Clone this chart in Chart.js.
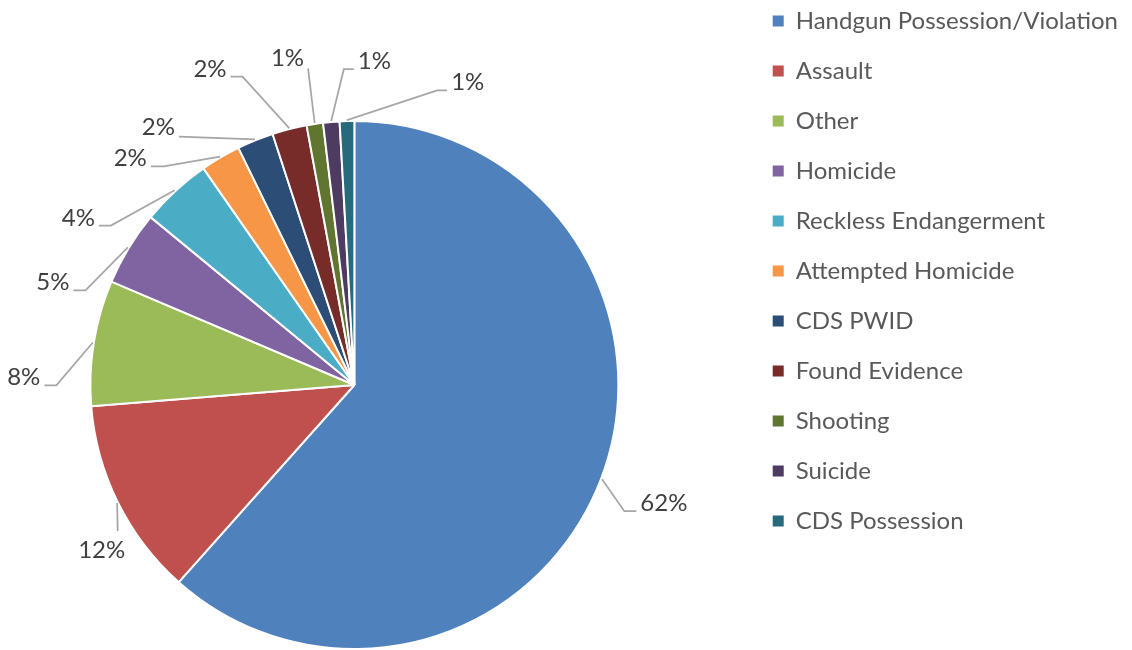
<!DOCTYPE html>
<html>
<head>
<meta charset="utf-8">
<script src="https://cdn.jsdelivr.net/npm/chart.js@4.4.1/dist/chart.umd.min.js"></script>
<style>
  body { margin: 0; background: #fff; }
  #wrap { width: 1132px; height: 650px; }
</style>
</head>
<body>
<div id="wrap"><canvas id="chart" width="1132" height="650"></canvas></div>
<script>

// categories and counts
const categories = [
    'Handgun Possession/Violation', 'Assault', 'Other', 'Homicide',
    'Reckless Endangerment', 'Attempted Homicide', 'CDS PWID',
    'Found Evidence', 'Shooting', 'Suicide', 'CDS Possession'
];
const counts = [553, 109, 69, 41, 39, 22, 20, 19, 9, 9, 8];
const sliceColors = [
    '#4F81BD', '#C0504D', '#9BBB59', '#8064A2', '#4BACC6', '#F79646',
    '#2C4D75', '#772C2A', '#5F7530', '#4D3B62', '#276A7C'
];

// where each percentage label goes, relative to its slice:
// da = elbow angle shift (deg), dr = elbow distance past the rim,
// tail = horizontal run after the elbow, side = which way the text sits
const labelPlacement = [
    {da: 4.2, dr: 34, tail: 12, side: 'right'},
    {da: -5.2, dr: 14, tail: 0, side: 'below'},
    {da: -9.3, dr: 34, tail: -12, side: 'left'},
    {da: -11.9, dr: 21, tail: -12, side: 'left'},
    {da: -14.1, dr: 27, tail: -12, side: 'left'},
    {da: -10.6, dr: 26, tail: -13, side: 'left'},
    {da: -13.2, dr: 40, tail: 0, side: 'left'},
    {da: -5.7, dr: 64, tail: -12, side: 'left'},
    {da: 0.3, dr: 56, tail: 0, side: 'left'},
    {da: 3.1, dr: 52, tail: 10, side: 'right'},
    {da: 17.3, dr: 42, tail: 10, side: 'right'}
];

const FONT = 'Lato, "Open Sans", sans-serif';

// the pie sits left of and below the middle of its area in the original
const shiftArea = {
    id: 'shiftArea',
    afterLayout(chart, args, opts) {
        const a = chart.chartArea;
        a.left += opts.x; a.right += opts.x;
        a.top += opts.y; a.bottom += opts.y;
    }
};

const pctLabels = {
    id: 'pctLabels',
    afterDatasetsDraw(chart) {
        const ctx = chart.ctx;
        const meta = chart.getDatasetMeta(0);
        const total = counts.reduce((a, b) => a + b, 0);
        ctx.save();
        ctx.font = '24px ' + FONT;
        ctx.fillStyle = '#404040';
        ctx.strokeStyle = '#A6A6A6';
        ctx.lineWidth = 1.75;
        meta.data.forEach((arc, i) => {
            const p = arc.getProps(['x', 'y', 'startAngle', 'endAngle', 'outerRadius'], true);
            const place = labelPlacement[i];
            const mid = (p.startAngle + p.endAngle) / 2;
            const ea = mid + place.da * Math.PI / 180;
            const r0 = p.outerRadius + 1;
            const r1 = p.outerRadius + place.dr;
            const sx = p.x + r0 * Math.cos(mid), sy = p.y + r0 * Math.sin(mid);
            const ex = p.x + r1 * Math.cos(ea), ey = p.y + r1 * Math.sin(ea);
            const tx = ex + place.tail;
            ctx.beginPath();
            ctx.moveTo(sx, sy);
            ctx.lineTo(ex, ey);
            if (place.tail) ctx.lineTo(tx, ey);
            ctx.stroke();

            const txt = Math.round(counts[i] / total * 100) + '%';
            if (place.side === 'below') {
                ctx.textAlign = 'center';
                ctx.textBaseline = 'top';
                ctx.fillText(txt, ex - 16, ey + 7);
            } else {
                ctx.textAlign = place.side === 'right' ? 'left' : 'right';
                ctx.textBaseline = 'alphabetic';
                const gap = place.side === 'right' ? 4 : -4;
                ctx.fillText(txt, tx + gap, ey - (place.tail ? 0 : 2));
            }
        });
        ctx.restore();
    }
};

const baseLabels = Chart.overrides.pie.plugins.legend.labels.generateLabels;

new Chart(document.getElementById('chart'), {
    type: 'pie',
    data: {
        labels: categories,
        datasets: [{
            data: counts,
            backgroundColor: sliceColors,
            borderColor: '#ffffff',
            borderWidth: 2,
            radius: 264
        }]
    },
    options: {
        responsive: false,
        animation: false,
        layout: {
            padding: {left: 0, right: 4, top: -17, bottom: 0}
        },
        plugins: {
            shiftArea: {x: -19, y: 60},
            legend: {
                position: 'right',
                align: 'start',
                labels: {
                    boxWidth: 11,
                    boxHeight: 11,
                    padding: 26,
                    color: '#595959',
                    font: {family: FONT, size: 24},
                    generateLabels: (chart) => baseLabels(chart).map(l => ({...l, lineWidth: 0}))
                }
            },
            tooltip: {enabled: false}
        }
    },
    plugins: [shiftArea, pctLabels]
});

</script>
</body>
</html>
